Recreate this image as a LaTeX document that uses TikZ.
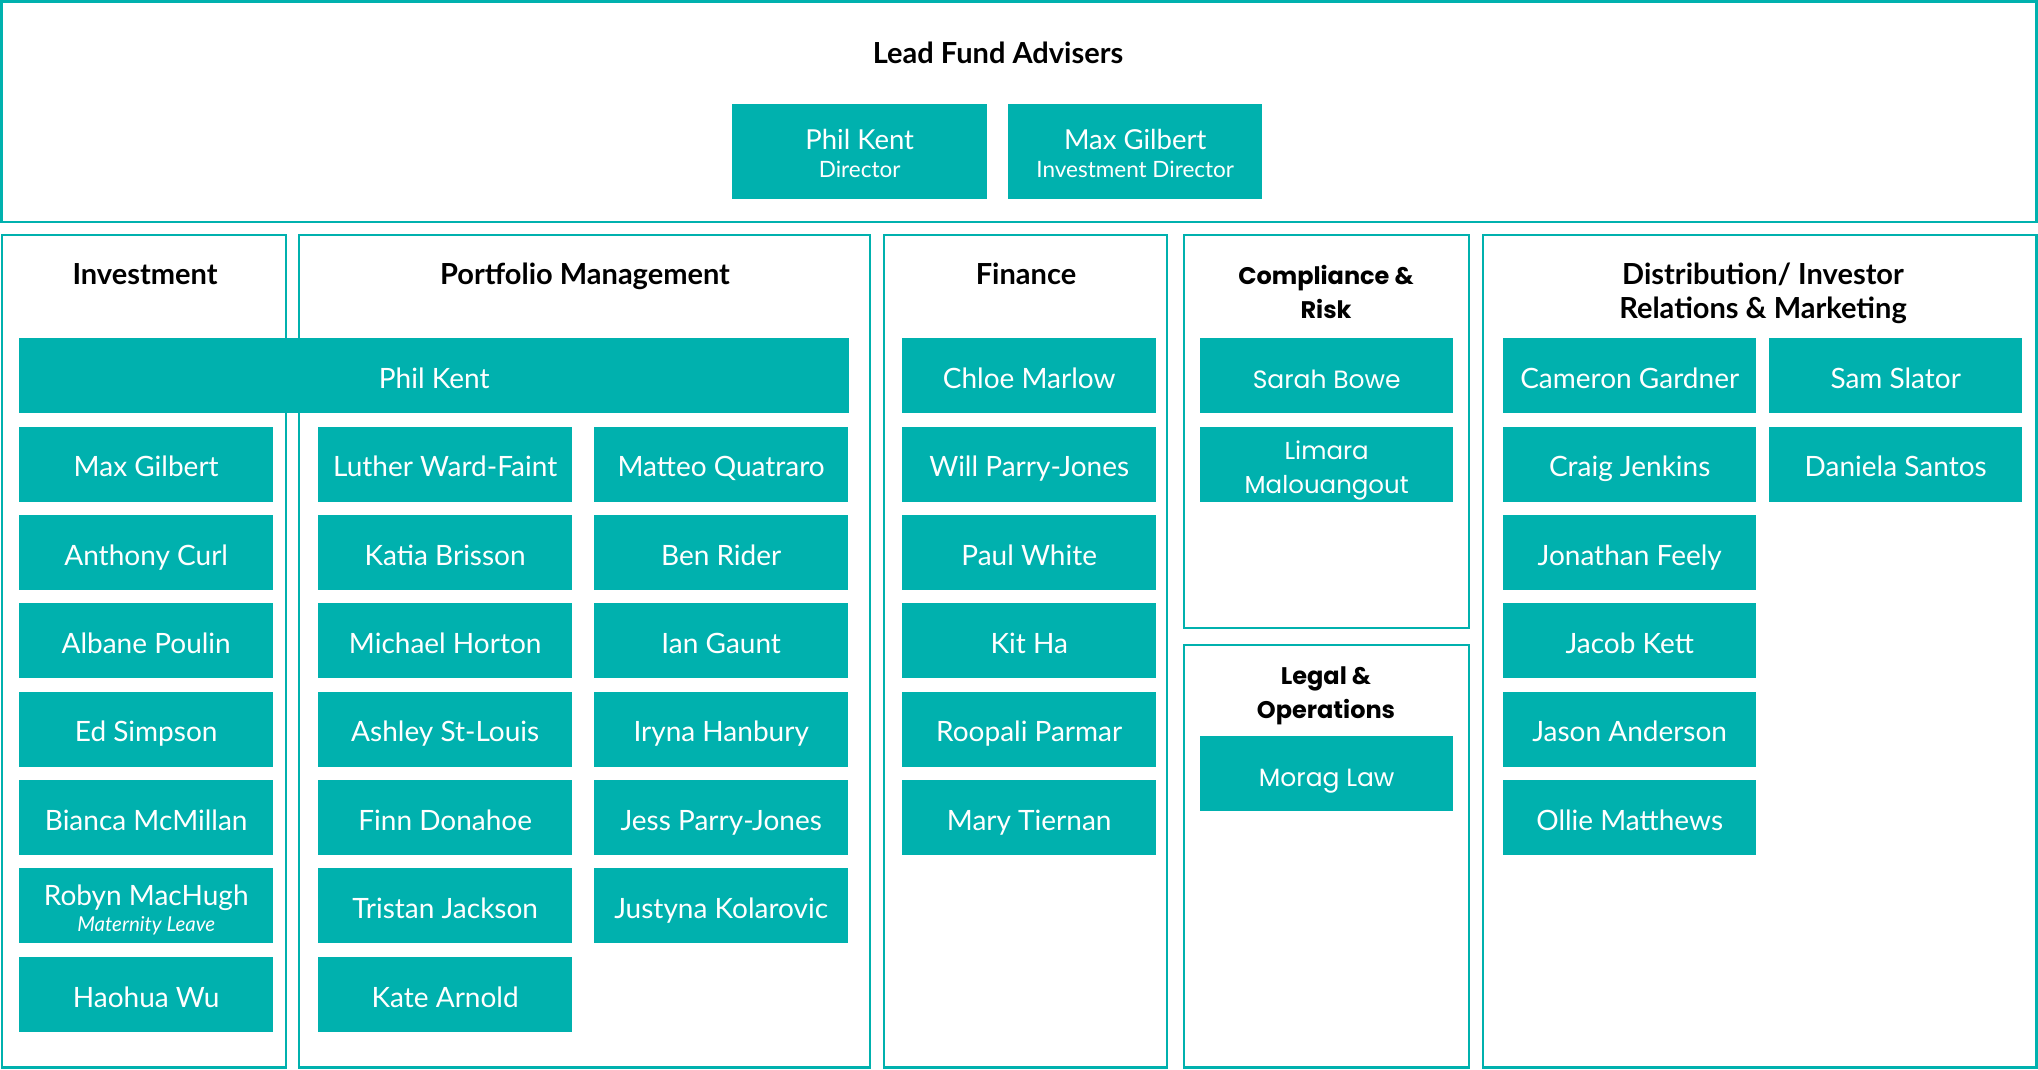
\documentclass[tikz,border=0pt]{standalone}
\usepackage{fontspec}
\setmainfont{Lato}
\newfontfamily\popfont{Poppins}
\definecolor{brandteal}{HTML}{00B1AE}
\begin{document}
\begin{tikzpicture}[x=1pt,y=-1pt,
  frame/.style={draw=brandteal, line width=2.6pt},
  namebox/.style={fill=brandteal, text=white, inner sep=0pt, anchor=north west,
    minimum height=75pt, align=center, text height=25pt, text depth=0pt,
    font=\fontsize{28}{30}\selectfont},
  popbox/.style={namebox, font=\popfont\fontsize{25}{35}\selectfont},
  head/.style={font=\bfseries\fontsize{29}{34}\selectfont, align=center, inner sep=0pt, anchor=base},
  pophead/.style={font=\popfont\bfseries\fontsize{24}{34}\selectfont, align=center, inner sep=0pt, anchor=base}
]
\useasboundingbox[fill=white] (0,0) rectangle (2038,1069);

% Section frames
\draw[frame] (1.5,1.5) rectangle (2036.5,222);
\draw[frame] (2,235) rectangle (286,1067.5);
\draw[frame] (299,235) rectangle (870,1067.5);
\draw[frame] (884,235) rectangle (1167,1067.5);
\draw[frame] (1184,235) rectangle (1469,628);
\draw[frame] (1184,645) rectangle (1469,1067.5);
\draw[frame] (1483,235) rectangle (2036.5,1067.5);

% Lead fund advisers (multi-line nodes sit on their last baseline)
\node[head] (leadhead) at (998,63) {Lead Fund Advisers};
\node[namebox, minimum width=255pt, minimum height=95pt, text height=55pt, text depth=4pt,
  font=\fontsize{27.5}{28}\selectfont] (leadphil) at (732,104)
  {Phil Kent\\{\fontsize{22.5}{28}\selectfont Director}};
\node[namebox, minimum width=254pt, minimum height=95pt, text height=55pt, text depth=4pt,
  font=\fontsize{27.5}{28}\selectfont] (leadmax) at (1008,104)
  {Max Gilbert\\{\fontsize{22.5}{28}\selectfont Investment Director}};

% Section headings
\node[head] (invhead) at (145,284) {Investment};
\node[head] (pmhead) at (585,284) {Portfolio Management};
\node[head] (finhead) at (1026,284) {Finance};
\node[pophead] (comphead) at (1326,318) {Compliance \&\\Risk};
\node[pophead] (legalhead) at (1326,718) {Legal \&\\Operations};
\node[head] (disthead) at (1763,318) {Distribution/ Investor\\Relations \& Marketing};

% Shared bar across Investment and Portfolio Management
\node[namebox, minimum width=830pt] (philbar) at (19,338) {Phil Kent};

% Investment
\node[namebox, minimum width=254pt] (inv1) at (19,426.5) {Max Gilbert};
\node[namebox, minimum width=254pt] (inv2) at (19,515) {Anthony Curl};
\node[namebox, minimum width=254pt] (inv3) at (19,603) {Albane Poulin};
\node[namebox, minimum width=254pt] (inv4) at (19,691.5) {Ed Simpson};
\node[namebox, minimum width=254pt] (inv5) at (19,780) {Bianca McMillan};
\node[namebox, minimum width=254pt, text height=53pt, text depth=2pt,
  font=\fontsize{28}{26}\selectfont] (inv6) at (19,868)
  {Robyn MacHugh\\{\itshape\fontsize{20.5}{26}\selectfont Maternity Leave}};
\node[namebox, minimum width=254pt] (inv7) at (19,957) {Haohua Wu};

% Portfolio Management
\node[namebox, minimum width=254pt] (pma1) at (318,426.5) {Luther Ward-Faint};
\node[namebox, minimum width=254pt] (pma2) at (318,515) {Katia Brisson};
\node[namebox, minimum width=254pt] (pma3) at (318,603) {Michael Horton};
\node[namebox, minimum width=254pt] (pma4) at (318,691.5) {Ashley St-Louis};
\node[namebox, minimum width=254pt] (pma5) at (318,780) {Finn Donahoe};
\node[namebox, minimum width=254pt] (pma6) at (318,868) {Tristan Jackson};
\node[namebox, minimum width=254pt] (pma7) at (318,957) {Kate Arnold};
\node[namebox, minimum width=254pt] (pmb1) at (594,426.5) {Matteo Quatraro};
\node[namebox, minimum width=254pt] (pmb2) at (594,515) {Ben Rider};
\node[namebox, minimum width=254pt] (pmb3) at (594,603) {Ian Gaunt};
\node[namebox, minimum width=254pt] (pmb4) at (594,691.5) {Iryna Hanbury};
\node[namebox, minimum width=254pt] (pmb5) at (594,780) {Jess Parry-Jones};
\node[namebox, minimum width=254pt] (pmb6) at (594,868) {Justyna Kolarovic};

% Finance
\node[namebox, minimum width=254pt] (fin1) at (902,338) {Chloe Marlow};
\node[namebox, minimum width=254pt] (fin2) at (902,426.5) {Will Parry-Jones};
\node[namebox, minimum width=254pt] (fin3) at (902,515) {Paul White};
\node[namebox, minimum width=254pt] (fin4) at (902,603) {Kit Ha};
\node[namebox, minimum width=254pt] (fin5) at (902,691.5) {Roopali Parmar};
\node[namebox, minimum width=254pt] (fin6) at (902,780) {Mary Tiernan};

% Compliance & Risk
\node[popbox, minimum width=253pt] (comp1) at (1200,338) {Sarah Bowe};
\node[popbox, minimum width=253pt, text height=61pt, text depth=2pt,
  font=\popfont\fontsize{24.5}{34.5}\selectfont] (comp2) at (1200,426.5) {Limara\\Malouangout};

% Legal & Operations
\node[popbox, minimum width=253pt] (legal1) at (1200,736) {Morag Law};

% Distribution / Investor Relations & Marketing
\node[namebox, minimum width=253pt] (dista1) at (1503,338) {Cameron Gardner};
\node[namebox, minimum width=253pt] (dista2) at (1503,426.5) {Craig Jenkins};
\node[namebox, minimum width=253pt] (dista3) at (1503,515) {Jonathan Feely};
\node[namebox, minimum width=253pt] (dista4) at (1503,603) {Jacob Kett};
\node[namebox, minimum width=253pt] (dista5) at (1503,691.5) {Jason Anderson};
\node[namebox, minimum width=253pt] (dista6) at (1503,780) {Ollie Matthews};
\node[namebox, minimum width=253pt] (distb1) at (1769,338) {Sam Slator};
\node[namebox, minimum width=253pt] (distb2) at (1769,426.5) {Daniela Santos};
\end{tikzpicture}
\end{document}
